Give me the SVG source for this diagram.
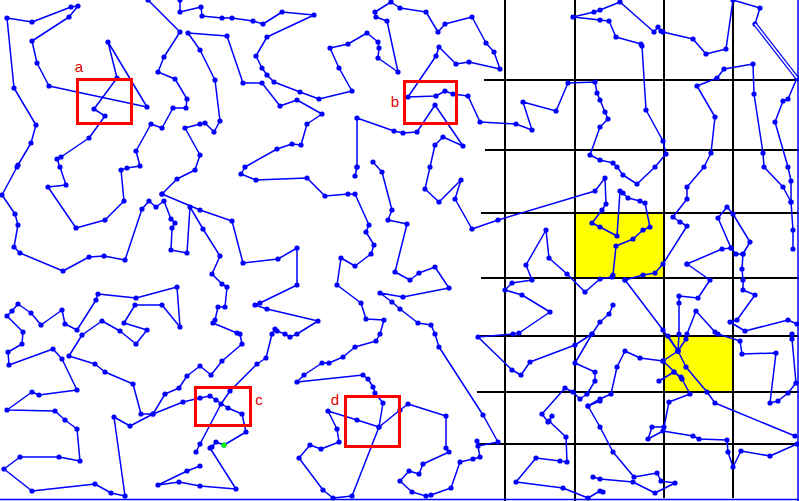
<svg xmlns="http://www.w3.org/2000/svg" width="799" height="501" viewBox="0 0 799 501">
<defs>
<marker id="d" markerWidth="6" markerHeight="6" refX="3" refY="3" markerUnits="userSpaceOnUse"><circle cx="3" cy="3" r="2.6" fill="#0000FF"/></marker>
</defs>
<style>
.t{fill:none;stroke:#0000FF;stroke-width:1.5;stroke-linejoin:round;marker-start:url(#d);marker-mid:url(#d);marker-end:url(#d)}
.g{stroke:#000;stroke-width:2}
.box{fill:none;stroke:#FF0000;stroke-width:3}
.lab{font-family:"Liberation Sans",Arial,sans-serif;font-size:15px;fill:#E00000;text-anchor:middle}
</style>
<rect width="799" height="501" fill="#fff"/>
<g id="cells">
<rect x="575" y="213" width="88" height="65" fill="#FFFF00"/>
<rect x="664" y="336" width="69" height="56" fill="#FFFF00"/>
</g>
<g id="grid">
<line class="g" x1="505" y1="0" x2="505" y2="501"/>
<line class="g" x1="575" y1="0" x2="575" y2="501"/>
<line class="g" x1="664" y1="0" x2="664" y2="498"/>
<line class="g" x1="733" y1="0" x2="733" y2="498"/>
<line class="g" x1="484" y1="80" x2="799" y2="80"/>
<line class="g" x1="485" y1="150" x2="799" y2="150"/>
<line class="g" x1="481" y1="213" x2="799" y2="213"/>
<line class="g" x1="481" y1="278" x2="799" y2="278"/>
<line class="g" x1="477" y1="336" x2="799" y2="336"/>
<line class="g" x1="477" y1="392" x2="799" y2="392"/>
<line class="g" x1="478" y1="444" x2="799" y2="444"/>
</g>
<g id="frame" stroke="#0000FF" stroke-width="1.5">
<line x1="798" y1="0" x2="798" y2="501"/>
<line x1="0" y1="499.5" x2="799" y2="499.5"/>
</g>
<g id="connectors">
<polyline class="t" points="148,0 180,32 164,57 158,72 175,79 187,99 186,108 173,108 162,128 151,124 136,151 140,166 127,168 121,170 124,201 105,220 76,228 48,187 66,185 60,167 57,159 61,157 89,138 105,116 94,109 117,78 108,42 147,107 49,86 37,63 32,41 69,17 78,6 71,7 32,22 7,18 14,88 36,125 31,143 18,165 17,167 2,195 15,214 18,225 14,247 20,253 63,271 89,257 104,256 125,260 142,209 149,201 156,207 164,201 171,219 175,223 172,228 171,250 187,253 190,207 203,229 220,256 212,274 222,284 227,287 225,307 218,307 215,320 213,323 237,333 240,334 242,344 222,361 211,375 200,366 187,376 179,388 165,394 153,414 141,414 133,384 105,372 95,364 69,356 82,335 102,321 120,331 136,344 147,330 124,323 135,305 162,305 180,327 177,287 136,298 98,294 96,300 77,330 65,324 62,310 41,325 31,313 18,304 12,311 7,316 23,332 22,344 8,352 9,365 53,349 62,359 77,390 39,395 32,392 7,410 55,411 65,420 77,429 80,461 59,457 20,457 4,469 32,491 95,484 111,493 125,496 114,417 130,426 153,414 183,402 200,398 210,396 216,400 228,408 242,414 246,432 224,445 216,442 212,447 210,448 236,489 200,486 179,482 158,485 187,471 200,466"/>
<polyline class="t" points="162,194 177,179 195,170 200,155 185,128 200,124 205,123 214,132 220,121 215,80 200,50 188,33 227,36 243,83 262,83 280,106 297,100 322,114 307,124 301,145 292,144 277,149 245,167 241,174 256,180 307,178 325,196 348,194 355,194 369,225 366,232 374,245 371,254 355,266 341,258 337,285 361,303 366,319 384,320 380,334 376,341 355,347 343,357 329,363 322,363 304,375 297,382 363,375 368,379 373,387 375,393 383,403 379,427 357,420 328,411 337,429 339,442 321,449 310,445 299,458 323,490 333,498 352,496 379,427 400,410 408,404 446,416 446,448 449,452 423,464 419,474 409,471 400,481 412,492 426,496 431,495 451,488 460,462 473,459 480,457 477,441 478,446 498,442 483,415 439,347 435,334 431,325 418,323 400,309 392,302 380,293 403,297 449,288 435,267 419,273 410,280 395,272 407,224 388,220 392,210 382,172 373,162"/>
<polyline class="t" points="162,194 200,210 232,221 243,263 278,259 297,248 297,285 260,303 255,305 267,309 318,321 297,334 290,337 285,334 277,331 275,329 272,334 266,358 257,364 230,391 221,404 200,444 196,452"/>
<polyline class="t" points="180,0 180,12 201,7 202,16 222,18 232,18 253,21 263,24 282,12 314,15 267,37 256,56 262,68 267,75 274,82 300,92 319,99 352,91 339,68 330,48 348,44 367,33 378,42 379,48 378,58 398,72 387,21 376,17 375,12 391,2 400,8 426,12 438,32 445,24 472,17 486,43 494,52 500,69 469,62 456,64 439,47 436,56 408,97 436,96 445,91 453,94 468,96 480,122 516,124 532,130 523,102 556,111 568,83 595,82 597,93 600,100 605,112 608,119 600,127 590,155 600,160 613,163 617,167 623,175 637,184 655,167 666,154 663,141 646,110 642,46 641,44 616,37 609,21 600,20 573,17 594,12 600,10 620,2 654,32 658,27 661,31 663,32 693,39 706,54 726,49 733,0 760,8 755,24"/>
<polyline class="t" points="357,167 357,118 394,131 403,133 417,132 435,105 463,146 443,137 435,145 430,167 425,189 439,202 461,180 455,199 472,229 498,220 595,191 605,178 606,204 602,210 592,223 600,227 617,236 620,191 623,193 628,198 640,201 645,203 650,227 643,230 633,239 616,246 613,275 612,277 600,279 585,292 567,274 549,258 546,230 526,265 532,280 512,283 505,290 522,295 550,312 519,333 513,334 478,337 512,370 521,375 530,362 575,345 592,334 600,322 609,314 613,305"/>
<polyline class="t" points="357,167 355,176"/>
<polyline class="t" points="797,78 788,99 783,101 775,122 788,167 791,181 791,202 793,230 793,249"/>
<polyline class="t" points="625,280 643,275 655,273 663,264 687,226 680,222 673,217 687,199 687,187 704,167 711,153 715,117 697,86 717,78 724,69 753,64 754,94 763,153 764,167 783,187 791,202"/>
<polyline class="t" points="625,280 663,330 678,351 686,367 707,392 715,403 795,436"/>
<polyline class="t" points="668,336 678,351 663,361 640,358 625,351 617,367 611,394 600,399 588,406 600,427 613,452 634,477 657,473 661,481 675,483 655,493 633,482 600,479 593,477"/>
<polyline class="t" points="686,339 678,351"/>
<polyline class="t" points="663,361 682,379 674,372 659,381"/>
<polyline class="t" points="674,372 681,377 690,394 669,402 664,427 652,427 648,439 663,431 693,436 699,439 727,440 728,452 733,467 741,451 770,456 797,444"/>
<polyline class="t" points="718,334 740,341 742,354 776,353 770,403 778,401 788,393 796,383 792,339 792,334"/>
<polyline class="t" points="687,264 722,249 731,248 736,254 743,254 750,242 733,214 727,207 718,218 731,248"/>
<polyline class="t" points="743,254 742,269 743,280 743,290 755,295 737,320 730,322 745,331 788,320 797,324"/>
<polyline class="t" points="687,264 710,280 698,298 679,296 679,303 679,334 678,351"/>
<polyline class="t" points="687,334 696,311 715,332"/>
<polyline class="t" points="592,334 575,363 595,372 595,381 587,394 580,399 573,392 565,388 542,414 548,422 552,416 549,421 566,437 567,462 560,461 536,458 516,482 563,488 588,498 600,491 603,492"/>
<polyline class="t" points="588,406 600,401"/>
<line x1="755" y1="24" x2="797" y2="78" stroke="#0000FF" stroke-width="4"/>
<line x1="755" y1="24" x2="797" y2="78" stroke="#fff" stroke-width="1.6"/>
<circle cx="224" cy="445" r="2.6" fill="#00FF00"/>
</g>
<g id="boxes">
<rect class="box" x="77.5" y="79.5" width="54" height="44"/>
<rect class="box" x="404.5" y="81.5" width="52" height="42"/>
<rect class="box" x="195.5" y="387.5" width="55" height="38"/>
<rect class="box" x="345.5" y="396.5" width="54" height="50"/>
</g>
<g id="labels">
<text class="lab" x="79" y="72">a</text>
<text class="lab" x="395" y="107">b</text>
<text class="lab" x="259" y="405">c</text>
<text class="lab" x="335" y="405">d</text>
</g>
</svg>
